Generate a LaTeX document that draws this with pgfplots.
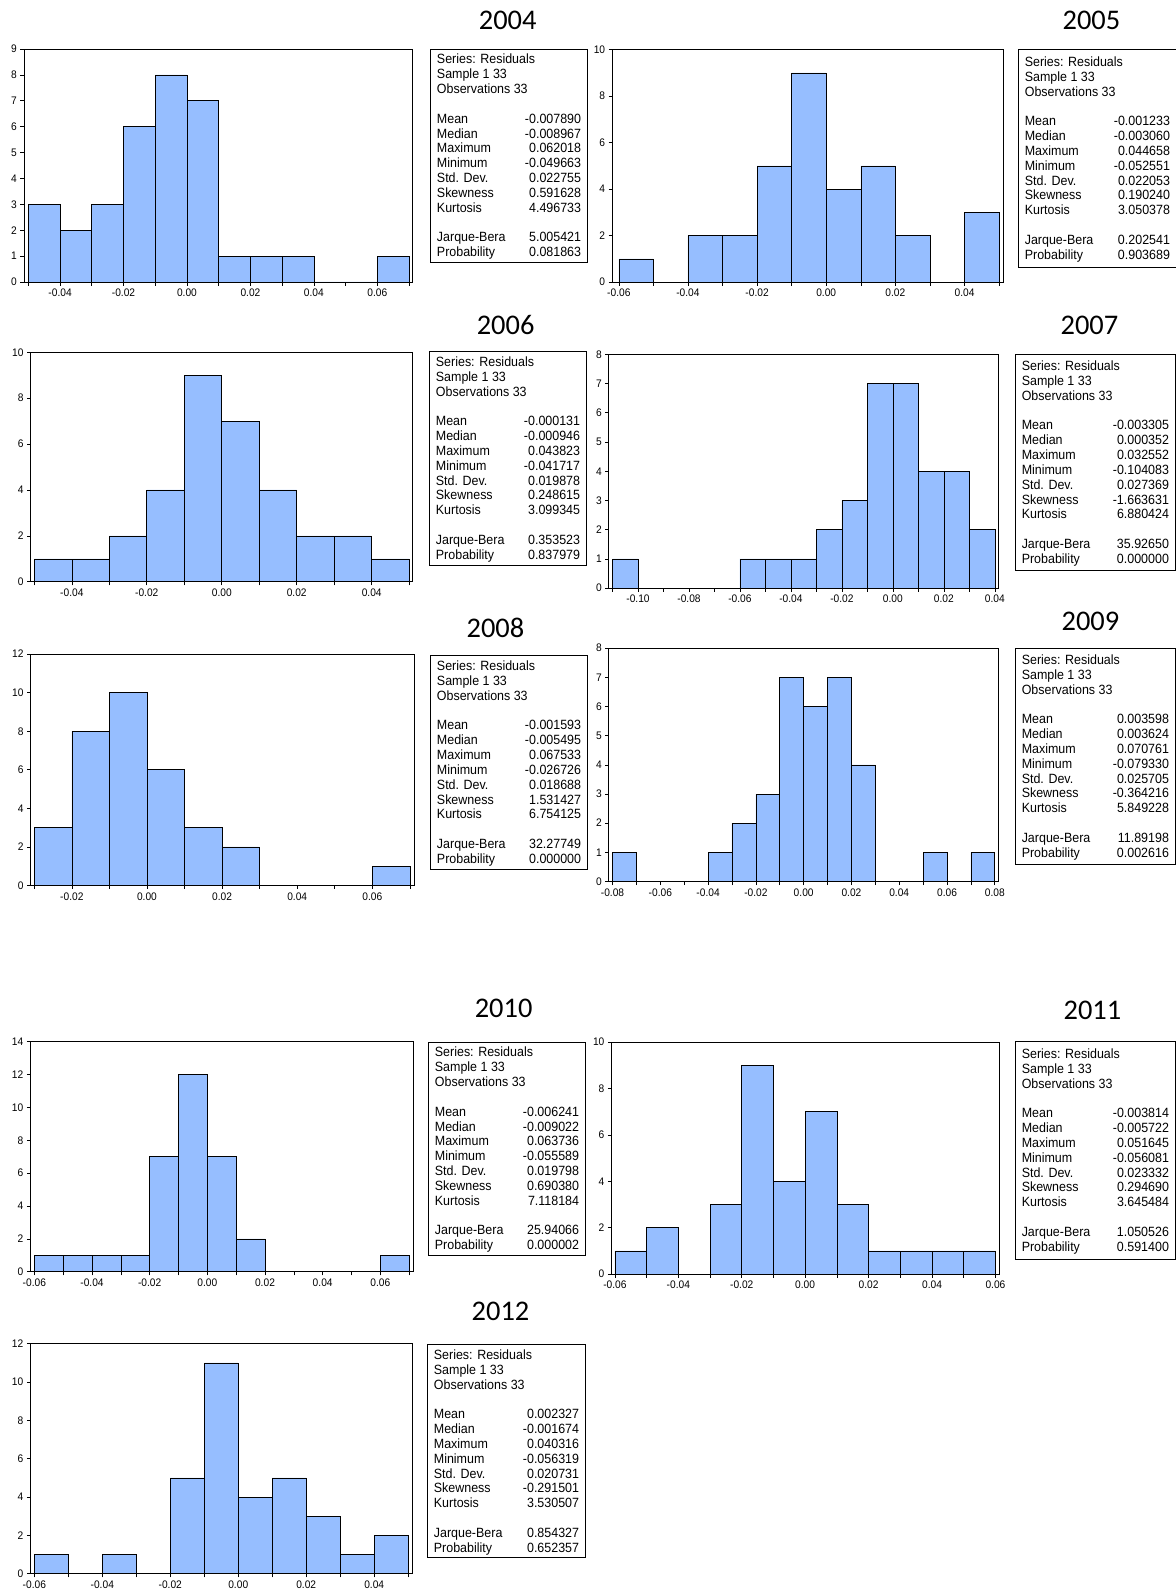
\documentclass[border=0pt]{standalone}
\usepackage{pgfplots}
\pgfplotsset{compat=1.18}
\usepackage{fontspec}
\setmainfont{Liberation Sans}[FakeStretch=0.93]
\newfontfamily\titlefont{Carlito}
\definecolor{barblue}{RGB}{150,190,255}
\newcommand\p{\hspace{8pt}}
\newcommand\strows[9]{%
\multicolumn{2}{@{}l}{\rule{0pt}{13.5pt}Series: Residuals}\\
\multicolumn{2}{@{}l}{Sample 1 33}\\
\multicolumn{2}{@{}l}{Observations 33}\\
\multicolumn{2}{@{}l}{}\\
Mean & #1\\
Median & #2\\
Maximum & #3\\
Minimum & #4\\
Std. Dev. & #5\\
Skewness & #6\\
Kurtosis & #7\\
\multicolumn{2}{@{}l}{}\\
Jarque-Bera & #8\\
Probability & #9}
\newcommand\statbox[5]{%
  \node[draw=black, line width=0.7pt, anchor=north west, inner xsep=6pt, inner ysep=0pt,
        minimum width=#3pt, minimum height=#4pt] at (#1pt,-#2pt)
  {\fontsize{13.2}{14.6}\selectfont
   \begin{tabular*}{\dimexpr #3pt-12pt\relax}{@{}l@{\extracolsep{\fill}}r@{}}#5\end{tabular*}};}
\newcommand\ttl[3]{\node[font={\titlefont\fontsize{28}{30}\selectfont}, inner sep=0pt] at (#1pt,-#2pt) {#3};}
\pgfplotsset{
  hist/.style={
    scale only axis, anchor=north west, ymin=0,
    axis line style={line width=0.8pt},
    tick align=outside, tick pos=left,
    major tick length=3.5pt, minor tick length=3.5pt,
    tick style={black, line width=0.6pt},
    tick label style={font=\fontsize{10.8}{12}\selectfont},
    /pgf/number format/assume math mode=true,
    scaled ticks=false,
  },
  bars/.style={ybar interval, fill=barblue, draw=black, line width=0.6pt},
}
\begin{document}
\begin{tikzpicture}
\useasboundingbox (0,0) rectangle (1158pt,-1568pt);
% ---------------- 2004
\begin{axis}[hist, at={(23.6pt,-48.3pt)}, width=383pt, height=229.4pt,
  xmin=-0.05138, xmax=0.07118, ymax=9, ytick={0,1,...,9},
  xtick={-0.04,-0.02,0,0.02,0.04,0.06}, xticklabels={-0.04,-0.02,0.00,0.02,0.04,0.06},
  minor xtick={-0.05,-0.03,-0.01,0.01,0.03,0.05,0.07}]
\addplot[bars] coordinates {(-0.05,3) (-0.04,2) (-0.03,3) (-0.02,6) (-0.01,8) (0,7) (0.01,1) (0.02,1) (0.03,1) (0.04,0) (0.05,0) (0.06,1) (0.07,0)};
\end{axis}
\ttl{500}{20}{2004}
\statbox{424}{48}{154}{210}{\strows{-0.007890}{-0.008967}{0.062018}{-0.049663}{0.022755}{0.591628}{4.496733}{5.005421}{0.081863}}
% ---------------- 2005
\begin{axis}[hist, at={(603pt,-49pt)}, width=385pt, height=228.8pt,
  xmin=-0.0619, xmax=0.05117, ymax=10, ytick={0,2,...,10},
  xtick={-0.06,-0.04,-0.02,0,0.02,0.04}, xticklabels={-0.06,-0.04,-0.02,0.00,0.02,0.04},
  minor xtick={-0.05,-0.03,-0.01,0.01,0.03,0.05}]
\addplot[bars] coordinates {(-0.06,1) (-0.05,0) (-0.04,2) (-0.03,2) (-0.02,5) (-0.01,9) (0,4) (0.01,5) (0.02,2) (0.03,0) (0.04,3) (0.05,0)};
\end{axis}
\ttl{1075}{20}{2005}
\statbox{1003}{48}{155}{215}{\strows{-0.001233}{-0.003060}{0.044658\p}{-0.052551}{0.022053\p}{0.190240\p}{3.050378\p}{0.202541\p}{0.903689\p}}
% ---------------- 2006
\begin{axis}[hist, at={(30.2pt,-347pt)}, width=375.8pt, height=226pt,
  xmin=-0.05098, xmax=0.05081, ymax=10, ytick={0,2,...,10},
  xtick={-0.04,-0.02,0,0.02,0.04}, xticklabels={-0.04,-0.02,0.00,0.02,0.04},
  minor xtick={-0.05,-0.03,-0.01,0.01,0.03,0.05}]
\addplot[bars] coordinates {(-0.05,1) (-0.04,1) (-0.03,2) (-0.02,4) (-0.01,9) (0,7) (0.01,4) (0.02,2) (0.03,2) (0.04,1) (0.05,0)};
\end{axis}
\ttl{498}{320}{2006}
\statbox{423}{346}{154}{210}{\strows{-0.000131}{-0.000946}{0.043823\p}{-0.041717}{0.019878\p}{0.248615\p}{3.099345\p}{0.353523\p}{0.837979\p}}
% ---------------- 2007
\begin{axis}[hist, at={(599.7pt,-349pt)}, width=384pt, height=230.3pt,
  xmin=-0.11143, xmax=0.04155, ymax=8, ytick={0,1,...,8},
  xtick={-0.1,-0.08,-0.06,-0.04,-0.02,0,0.02,0.04}, xticklabels={-0.10,-0.08,-0.06,-0.04,-0.02,0.00,0.02,0.04},
  minor xtick={-0.11,-0.09,-0.07,-0.05,-0.03,-0.01,0.01,0.03}]
\addplot[bars] coordinates {(-0.11,1) (-0.10,0) (-0.09,0) (-0.08,0) (-0.07,0) (-0.06,1) (-0.05,1) (-0.04,1) (-0.03,2) (-0.02,3) (-0.01,7) (0,7) (0.01,4) (0.02,4) (0.03,2) (0.04,0)};
\end{axis}
\ttl{1073}{320}{2007}
\statbox{1000}{349}{157}{212}{\strows{-0.003305}{0.000352}{0.032552}{-0.104083}{0.027369}{-1.663631}{6.880424}{35.92650}{0.000000}}
% ---------------- 2008
\begin{axis}[hist, at={(30.2pt,-644.3pt)}, width=377.8pt, height=227.7pt,
  xmin=-0.03097, xmax=0.07116, ymax=12, ytick={0,2,...,12},
  xtick={-0.02,0,0.02,0.04,0.06}, xticklabels={-0.02,0.00,0.02,0.04,0.06},
  minor xtick={-0.03,-0.01,0.01,0.03,0.05,0.07}]
\addplot[bars] coordinates {(-0.03,3) (-0.02,8) (-0.01,10) (0,6) (0.01,3) (0.02,2) (0.03,0) (0.04,0) (0.05,0) (0.06,1) (0.07,0)};
\end{axis}
\ttl{488}{618}{2008}
\statbox{424}{645}{154}{211}{\strows{-0.001593}{-0.005495}{0.067533\p}{-0.026726}{0.018688\p}{1.531427\p}{6.754125\p}{32.27749\p}{0.000000\p}}
% ---------------- 2009
\begin{axis}[hist, at={(599.7pt,-638.4pt)}, width=384pt, height=229.8pt,
  xmin=-0.08153, xmax=0.08166, ymax=8, ytick={0,1,...,8},
  xtick={-0.08,-0.06,-0.04,-0.02,0,0.02,0.04,0.06,0.08}, xticklabels={-0.08,-0.06,-0.04,-0.02,0.00,0.02,0.04,0.06,0.08},
  minor xtick={-0.07,-0.05,-0.03,-0.01,0.01,0.03,0.05,0.07}]
\addplot[bars] coordinates {(-0.08,1) (-0.07,0) (-0.06,0) (-0.05,0) (-0.04,1) (-0.03,2) (-0.02,3) (-0.01,7) (0,6) (0.01,7) (0.02,4) (0.03,0) (0.04,0) (0.05,1) (0.06,0) (0.07,1) (0.08,0)};
\end{axis}
\ttl{1074}{612}{2009}
\statbox{1000}{638}{157}{213}{\strows{0.003598}{0.003624}{0.070761}{-0.079330}{0.025705}{-0.364216}{5.849228}{11.89198}{0.002616}}
% ---------------- 2010
\begin{axis}[hist, at={(30pt,-1026pt)}, width=377pt, height=226.6pt,
  xmin=-0.06134, xmax=0.07141, ymax=14, ytick={0,2,...,14},
  xtick={-0.06,-0.04,-0.02,0,0.02,0.04,0.06}, xticklabels={-0.06,-0.04,-0.02,0.00,0.02,0.04,0.06},
  minor xtick={-0.05,-0.03,-0.01,0.01,0.03,0.05,0.07}]
\addplot[bars] coordinates {(-0.06,1) (-0.05,1) (-0.04,1) (-0.03,1) (-0.02,7) (-0.01,12) (0,7) (0.01,2) (0.02,0) (0.03,0) (0.04,0) (0.05,0) (0.06,1) (0.07,0)};
\end{axis}
\ttl{496}{993}{2010}
\statbox{422}{1026}{154}{210}{\strows{-0.006241}{-0.009022}{0.063736\p}{-0.055589}{0.019798\p}{0.690380\p}{7.118184\p}{25.94066\p}{0.000002\p}}
% ---------------- 2011
\begin{axis}[hist, at={(602.3pt,-1026.4pt)}, width=381.7pt, height=228.5pt,
  xmin=-0.06106, xmax=0.06115, ymax=10, ytick={0,2,...,10},
  xtick={-0.06,-0.04,-0.02,0,0.02,0.04,0.06}, xticklabels={-0.06,-0.04,-0.02,0.00,0.02,0.04,0.06},
  minor xtick={-0.05,-0.03,-0.01,0.01,0.03,0.05}]
\addplot[bars] coordinates {(-0.06,1) (-0.05,2) (-0.04,0) (-0.03,3) (-0.02,9) (-0.01,4) (0,7) (0.01,3) (0.02,1) (0.03,1) (0.04,1) (0.05,1) (0.06,0)};
\end{axis}
\ttl{1076}{995}{2011}
\statbox{1000}{1025}{157}{215}{\strows{-0.003814}{-0.005722}{0.051645\p}{-0.056081}{0.023332\p}{0.294690\p}{3.645484\p}{1.050526\p}{0.591400\p}}
% ---------------- 2012
\begin{axis}[hist, at={(30pt,-1323.5pt)}, width=376pt, height=226.5pt,
  xmin=-0.06114, xmax=0.05119, ymax=12, ytick={0,2,...,12},
  xtick={-0.06,-0.04,-0.02,0,0.02,0.04}, xticklabels={-0.06,-0.04,-0.02,0.00,0.02,0.04},
  minor xtick={-0.05,-0.03,-0.01,0.01,0.03,0.05}]
\addplot[bars] coordinates {(-0.06,1) (-0.05,0) (-0.04,1) (-0.03,0) (-0.02,5) (-0.01,11) (0,4) (0.01,5) (0.02,3) (0.03,1) (0.04,2) (0.05,0)};
\end{axis}
\ttl{493}{1292}{2012}
\statbox{421}{1324}{155}{210}{\strows{0.002327}{-0.001674}{0.040316}{-0.056319}{0.020731}{-0.291501}{3.530507}{0.854327}{0.652357}}
\end{tikzpicture}
\end{document}
